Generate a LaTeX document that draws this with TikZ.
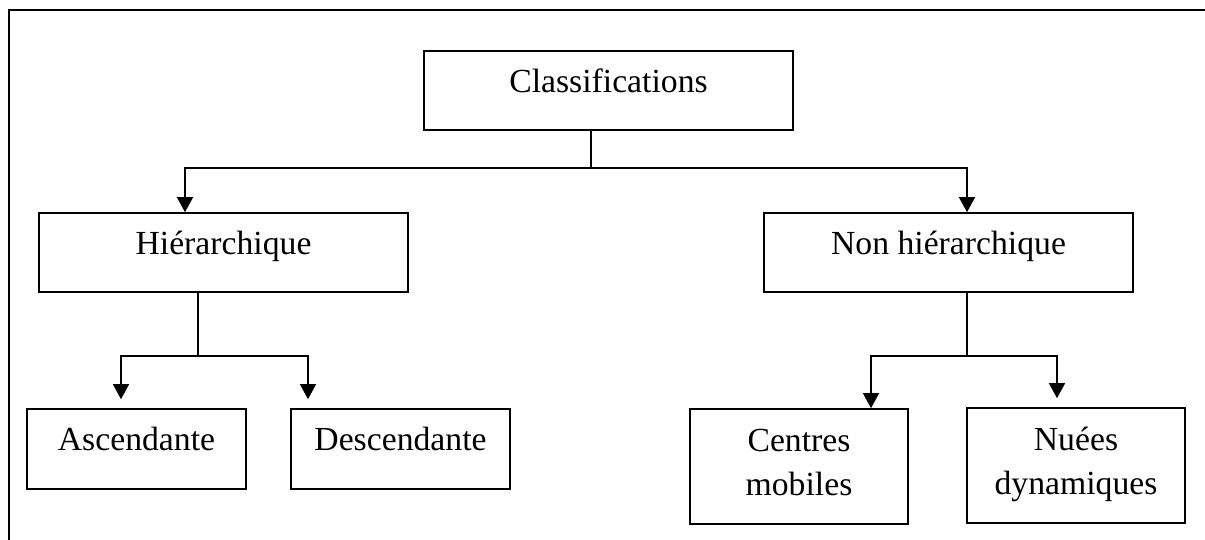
\documentclass[tikz,border=0pt]{standalone}
\usepackage{fontspec}
\setmainfont{Liberation Serif}
\usetikzlibrary{arrows.meta}
\begin{document}
\begin{tikzpicture}[x=0.5pt,y=-0.5pt,
  box/.style={draw, line width=0.8pt, inner sep=0pt, anchor=base,
    font=\fontsize{16.85pt}{22pt}\selectfont},
  wide/.style={minimum width=184.5pt, text height=20.5pt, text depth=19pt},
  small/.style={minimum width=109.5pt, text height=20.5pt, text depth=19.5pt},
  tall/.style={minimum width=109pt, text height=21pt, text depth=36.5pt},
  conn/.style={line width=0.7pt},
  arr/.style={conn, -{Triangle[width=8pt,length=7.5pt]}},
  gap/.style={shorten >=4.5pt}]
\useasboundingbox (0,0) rectangle (1205,540);
% frame
\draw[line width=1.1pt] (9,540) -- (9,10) -- (1205,10);
% nodes
\node[box, minimum width=184.5pt, text height=21pt, text depth=18.5pt] (cls) at (608.5,93) {Classifications};
\node[box, wide] (h) at (223.5,254) {Hiérarchique};
\node[box, wide] (nh) at (948.5,254) {Non hiérarchique};
\node[box, small] (a) at (136.5,450) {Ascendante};
\node[box, small] (d) at (400.5,450) {Descendante};
\node[box, tall] (cm) at (799,451) {\begin{tabular}[t]{@{}c@{}}Centres\\mobiles\end{tabular}};
\node[box, tall] (nd) at (1076,450) {\begin{tabular}[t]{@{}c@{}}Nuées\\dynamiques\end{tabular}};
% junctions and drop points
\coordinate (t1) at (591,168);
\coordinate (hx) at (185,0);
\coordinate (nhx) at (967,0);
\coordinate (t2) at (198,356);
\coordinate (ax) at (121,0);
\coordinate (dx) at (308,0);
\coordinate (t3) at (967,356);
\coordinate (cmx) at (871,0);
\coordinate (ndx) at (1057,0);
% connectors
\draw[conn] (cls.south -| t1) -- (t1);
\draw[arr] (t1) -| (h.north -| hx);
\draw[arr] (t1) -| (nh.north -| nhx);
\draw[conn] (h.south -| t2) -- (t2);
\draw[arr, gap] (t2) -| (a.north -| ax);
\draw[arr, gap] (t2) -| (d.north -| dx);
\draw[conn] (nh.south -| t3) -- (t3);
\draw[arr] (t3) -| (cm.north -| cmx);
\draw[arr, gap] (t3) -| (nd.north -| ndx);
\end{tikzpicture}
\end{document}
